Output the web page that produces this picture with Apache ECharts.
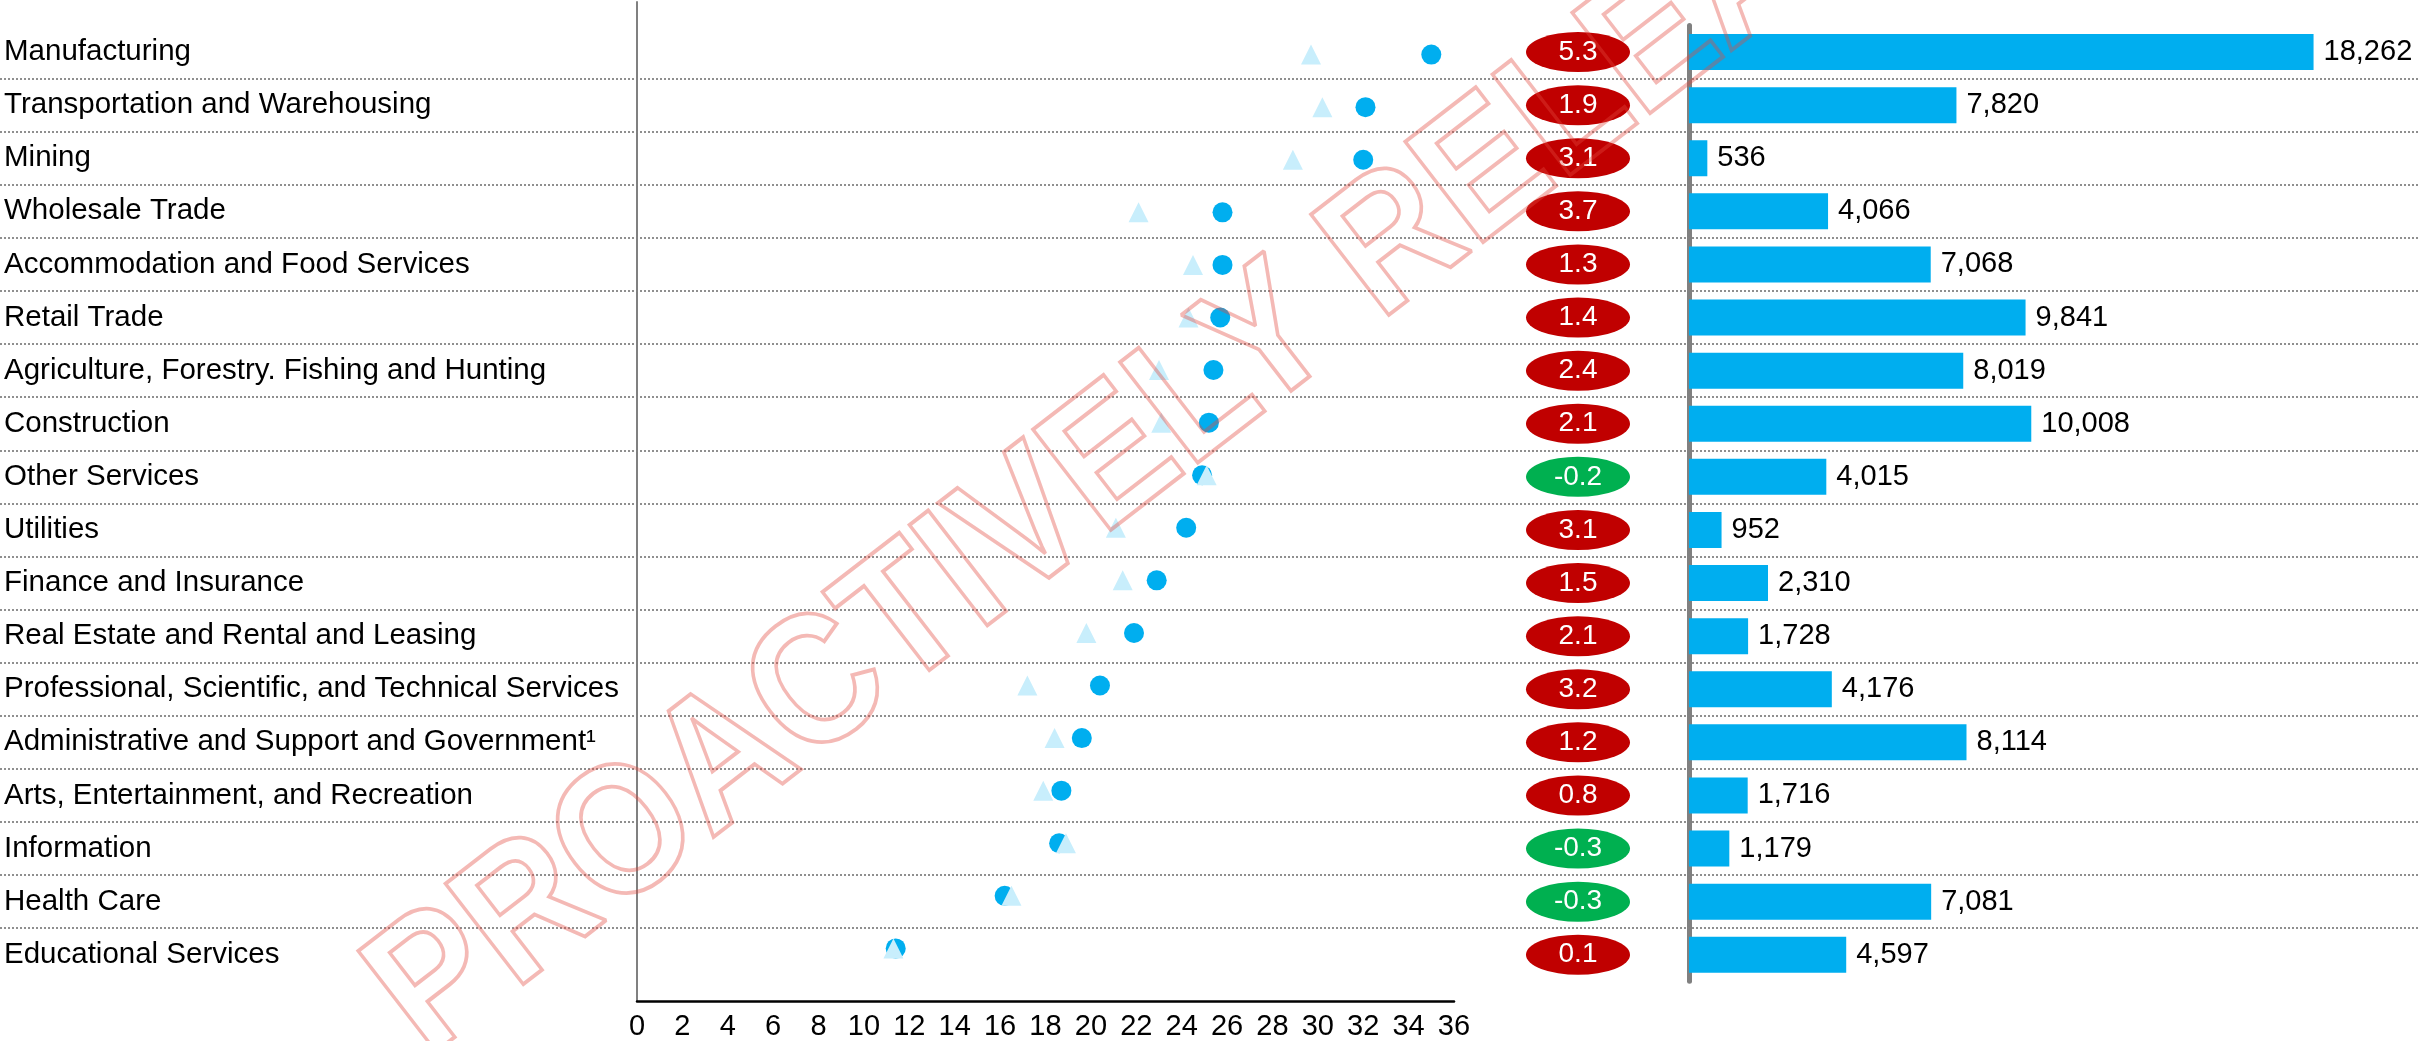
<!DOCTYPE html>
<html>
<head>
<meta charset="utf-8">
<script src="https://cdn.jsdelivr.net/npm/echarts@6/dist/echarts.min.js"></script>
<style>
  html, body { margin: 0; padding: 0; background: #ffffff; }
  #chart { width: 2419px; height: 1041px; }
</style>
</head>
<body>
<div id="chart"></div>
<script>
// ---- data ----
const categories = [
  'Manufacturing',
  'Transportation and Warehousing',
  'Mining',
  'Wholesale Trade',
  'Accommodation and Food Services',
  'Retail Trade',
  'Agriculture, Forestry. Fishing and Hunting',
  'Construction',
  'Other Services',
  'Utilities',
  'Finance and Insurance',
  'Real Estate and Rental and Leasing',
  'Professional, Scientific, and Technical Services',
  'Administrative and Support and Government\u00B9',
  'Arts, Entertainment, and Recreation',
  'Information',
  'Health Care',
  'Educational Services'
];
const currentValues = [35.0, 32.1, 32.0, 25.8, 25.8, 25.7, 25.4, 25.2, 24.9, 24.2, 22.9, 21.9, 20.4, 19.6, 18.7, 18.6, 16.2, 11.4];
const priorValues   = [29.7, 30.2, 28.9, 22.1, 24.5, 24.3, 23.0, 23.1, 25.1, 21.1, 21.4, 19.8, 17.2, 18.4, 17.9, 18.9, 16.5, 11.3];
const changeValues  = [5.3, 1.9, 3.1, 3.7, 1.3, 1.4, 2.4, 2.1, -0.2, 3.1, 1.5, 2.1, 3.2, 1.2, 0.8, -0.3, -0.3, 0.1];
const countValues   = [18262, 7820, 536, 4066, 7068, 9841, 8019, 10008, 4015, 952, 2310, 1728, 4176, 8114, 1716, 1179, 7081, 4597];
const watermarkText = 'PROACTIVELY RELEASED';

// ---- layout / style ----
const FONT = '"Liberation Sans", Arial, sans-serif';
const tableTop = 25.5, tableHeight = 955.8;
const blue = '#00AEEF', lightBlue = '#C8EEFC';

const chart = echarts.init(document.getElementById('chart'), null, { renderer: 'canvas' });

const option = {
  backgroundColor: '#ffffff',
  animation: false,
  textStyle: { fontFamily: FONT },
  grid: [
    { left: 0, width: 2419, top: tableTop, height: tableHeight, containLabel: false },   // table rows
    { left: 637, width: 817, top: 2, height: 1000, containLabel: false },               // dot plot
    { left: 1526, width: 104, top: tableTop, height: tableHeight, containLabel: false }, // ellipses
    { left: 1689, width: 684, top: tableTop, height: tableHeight, containLabel: false }  // bars
  ],
  xAxis: [
    { gridIndex: 0, type: 'value', min: 0, max: 1, show: false },
    { gridIndex: 1, type: 'value', min: 0, max: 36, interval: 2,
      axisLine: { show: true, onZero: false, lineStyle: { color: '#000000', width: 2.5 } },
      axisTick: { show: false }, splitLine: { show: false },
      axisLabel: { color: '#000000', fontSize: 29, fontFamily: FONT, margin: 11 } },
    { gridIndex: 2, type: 'value', min: 0, max: 1, show: false },
    { gridIndex: 3, type: 'value', min: 0, max: 20000, show: false }
  ],
  yAxis: [
    { gridIndex: 0, type: 'category', data: categories, inverse: true,
      axisLine: { show: false }, axisTick: { show: false },
      axisLabel: { inside: true, align: 'left', margin: 4, color: '#000000', fontSize: 29.5, fontFamily: FONT },
      splitLine: { show: true, showMinLine: false, showMaxLine: false,
        lineStyle: { color: '#8f8f8f', width: 2, type: [2, 2] } } },
    { gridIndex: 1, type: 'value', min: -1, max: 18, inverse: true,
      axisLine: { show: true, onZero: false, lineStyle: { color: '#808080', width: 2 } },
      axisTick: { show: false }, axisLabel: { show: false }, splitLine: { show: false } },
    { gridIndex: 2, type: 'category', data: categories, inverse: true, show: false },
    { gridIndex: 3, type: 'category', data: categories, inverse: true, offset: 2.5,
      axisLine: { show: true, lineStyle: { color: '#808080', width: 5 } },
      axisTick: { show: false }, axisLabel: { show: false }, splitLine: { show: false } }
  ],
  series: [
    { type: 'scatter', xAxisIndex: 1, yAxisIndex: 1, symbol: 'circle', symbolSize: 20,
      itemStyle: { color: blue, opacity: 1 }, z: 3,
      data: currentValues.map((v, i) => [v, i]) },
    { type: 'scatter', xAxisIndex: 1, yAxisIndex: 1, symbol: 'triangle', symbolSize: [20, 20],
      itemStyle: { color: lightBlue, opacity: 1 }, z: 4,
      data: priorValues.map((v, i) => [v, i]) },
    { type: 'scatter', xAxisIndex: 2, yAxisIndex: 2, symbol: 'circle', symbolSize: [104, 40],
      itemStyle: { opacity: 1, color: p => (changeValues[p.dataIndex] < 0 ? '#00B050' : '#C00000') },
      label: { show: true, position: 'inside', color: '#ffffff', fontSize: 28, fontFamily: FONT,
        formatter: p => changeValues[p.dataIndex].toFixed(1) },
      data: changeValues.map((v, i) => [0.5, i]) },
    { type: 'bar', xAxisIndex: 3, yAxisIndex: 3, barWidth: 36,
      itemStyle: { color: blue },
      label: { show: true, position: 'right', distance: 10, color: '#000000', fontSize: 29, fontFamily: FONT,
        formatter: p => countValues[p.dataIndex].toLocaleString('en-US') },
      data: countValues }
  ],
  graphic: [
    { type: 'text', x: 1228, y: 375, rotation: 0.658, scaleY: 1.12, z: 100, silent: true,
      style: { text: watermarkText, font: 'bold 165px "Liberation Sans", Arial, sans-serif',
        fill: 'rgba(0,0,0,0)', stroke: 'rgba(225,70,60,0.38)', lineWidth: 3.5, lineJoin: 'round',
        align: 'center', verticalAlign: 'middle' } }
  ]
};
chart.setOption(option);
</script>
</body>
</html>
